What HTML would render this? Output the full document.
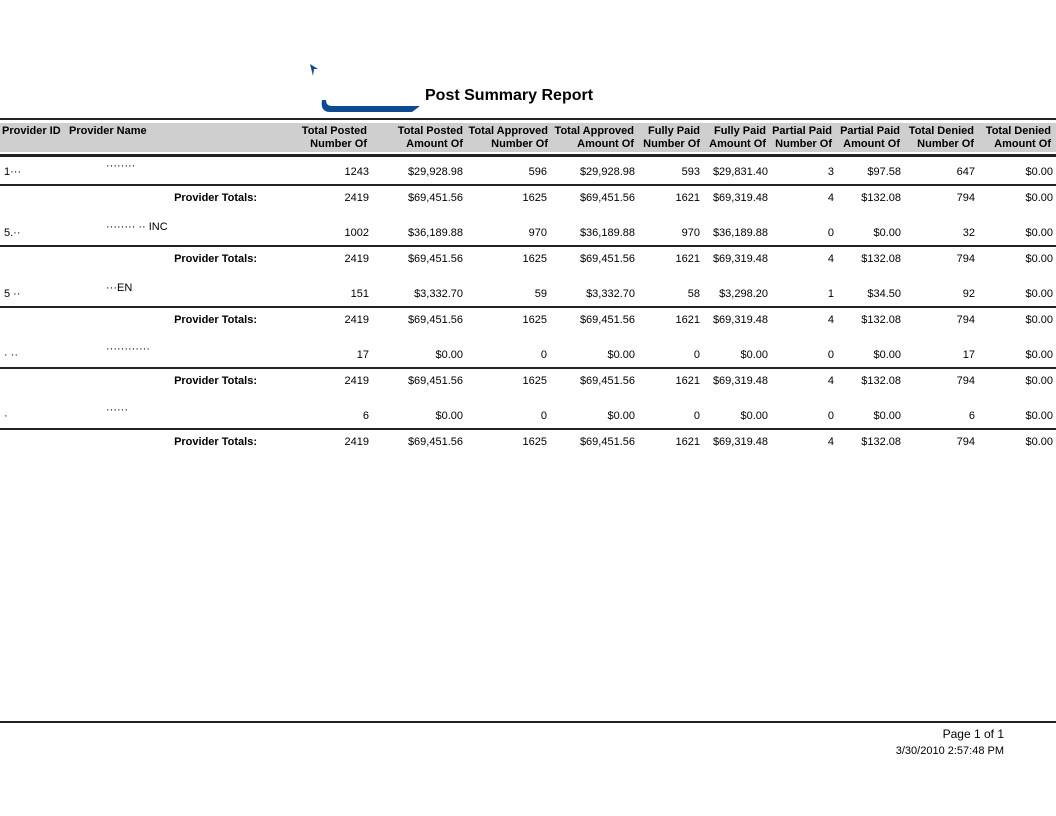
<!DOCTYPE html>
<html><head><meta charset="utf-8">
<style>
body{margin:0;width:1056px;height:816px;background:#fff;position:relative;overflow:hidden;font-family:"Liberation Sans",Arial,sans-serif;color:#000}
.a{position:absolute;white-space:nowrap;font-size:11px;line-height:13px}
.r{text-align:right}
.b{font-weight:bold}
.ln{position:absolute;left:0;width:1056px;background:#222}
</style></head><body>
<div style="position:absolute;left:320px;top:98px;width:100px;height:16px;">
<svg width="100" height="16"><path d="M2 2 Q0 14 10 14 L92 14 L100 8 L12 8 Q6 8 6 2 Z" fill="#0d4a8f"/></svg></div>
<div style="position:absolute;left:309px;top:63px;"><svg width="10" height="14"><path d="M1 1 L9 6 L5 6 L4 13 Z" fill="#0d4a8f"/></svg></div>
<div class="a b" style="left:425px;top:86px;font-size:16px;line-height:20px">Post Summary Report</div>
<div class="ln" style="top:118px;height:2px"></div>
<div style="position:absolute;left:0;top:123px;width:1056px;height:29px;background:#cfcfcf"></div>
<div class="ln" style="top:154px;height:3px"></div>
<div id="t"></div>
<div class="ln" style="top:721px;height:2px"></div>
<div class="a r" style="right:52px;top:728px;font-size:12px">Page 1 of 1</div>
<div class="a r" style="right:52px;top:745px;font-size:11px">3/30/2010 2:57:48 PM</div>
<script>
const headers1=["Total Posted","Total Posted","Total Approved","Total Approved","Fully Paid","Fully Paid","Partial Paid","Partial Paid","Total Denied","Total Denied"];
const headers2=["Number Of","Amount Of","Number Of","Amount Of","Number Of","Amount Of","Number Of","Amount Of","Number Of","Amount Of"];
const rightEdges=[369,463,547,635,700,768,834,901,975,1053];
const hdrRight=[367,463,548,634,700,766,832,900,974,1051];
const ids=["1\u00b7\u00b7\u00b7","5.\u00b7\u00b7","5 \u00b7\u00b7","\u00b7 \u00b7\u00b7","\u00b7"];
const names=["\u00b7\u00b7\u00b7\u00b7\u00b7\u00b7\u00b7\u00b7","\u00b7\u00b7\u00b7\u00b7\u00b7\u00b7\u00b7\u00b7  \u00b7\u00b7 INC","\u00b7\u00b7\u00b7EN","\u00b7\u00b7\u00b7\u00b7\u00b7\u00b7\u00b7\u00b7\u00b7\u00b7\u00b7\u00b7","\u00b7\u00b7\u00b7\u00b7\u00b7\u00b7"];
const rows=[
["1243","$29,928.98","596","$29,928.98","593","$29,831.40","3","$97.58","647","$0.00"],
["1002","$36,189.88","970","$36,189.88","970","$36,189.88","0","$0.00","32","$0.00"],
["151","$3,332.70","59","$3,332.70","58","$3,298.20","1","$34.50","92","$0.00"],
["17","$0.00","0","$0.00","0","$0.00","0","$0.00","17","$0.00"],
["6","$0.00","0","$0.00","0","$0.00","0","$0.00","6","$0.00"]];
const totals=["2419","$69,451.56","1625","$69,451.56","1621","$69,319.48","4","$132.08","794","$0.00"];
const T=document.getElementById('t');
function txt(s,x,y,cls,name,right){const d=document.createElement('div');d.className='a '+cls;d.textContent=s;


d.style.top=y+'px';if(right){d.style.right=(1056-x)+'px';}else d.style.left=x+'px';T.appendChild(d);}
txt("Provider ID",2,125,'b','header-provider-id',false);
txt("Provider Name",69,125,'b','header-provider-name',false);
headers1.forEach((h,i)=>{txt(h,hdrRight[i],125,'b r','header-'+i,true);txt(headers2[i],hdrRight[i],138,'b r','header-sub-'+i,true);});
rows.forEach((r,k)=>{const y=166+k*61;
txt(ids[k],4,y,'','provider-id',false);
txt(names[k],106,y-6,'','provider-name',false);
r.forEach((v,i)=>txt(v,rightEdges[i],y,'r','cell',true));
const l=document.createElement('div');l.className='ln';l.style.top=(y+18)+'px';l.style.height='2px';


T.appendChild(l);
txt("Provider Totals:",257,y+26,'b r','provider-totals-label',true);
totals.forEach((v,i)=>txt(v,rightEdges[i],y+26,'r','total-cell',true));
});
</script>
</body></html>
